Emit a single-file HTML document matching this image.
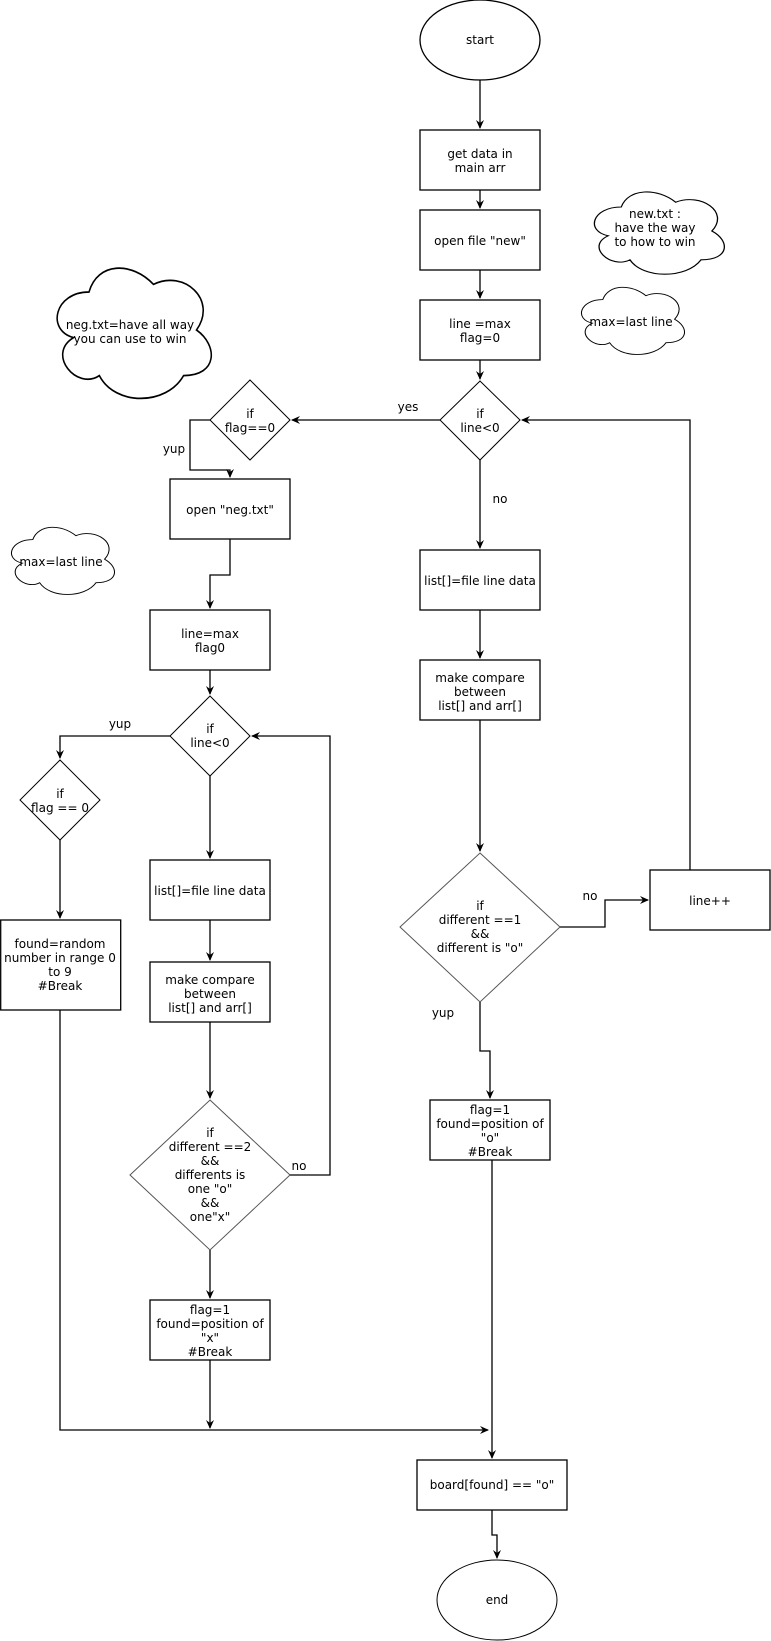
<!DOCTYPE html>
<html><head><meta charset="utf-8"><style>
html,body{margin:0;padding:0;background:#fff;}
svg{display:block;}
text{font-family:"DejaVu Sans","Liberation Sans",sans-serif;font-size:12px;fill:#000;}
</style></head><body>
<svg width="771" height="1641" viewBox="0 0 771 1641" xmlns="http://www.w3.org/2000/svg">
<defs>
<marker id="a" markerWidth="10" markerHeight="10" refX="8" refY="5" orient="auto" markerUnits="userSpaceOnUse">
<path d="M0,1 L9,5 L0,9 L3,5 Z" fill="#000"/></marker>
<path id="cl" d="M25 20 C5 20 0 40 16 44 C0 52.8 18 72 31 64 C40 80 70 80 80 64 C100 64 100 48 87.5 40 C100 24 80 8 62.5 16 C50 4 30 4 25 20 Z"/>
</defs>
<g fill="none" stroke="#000" stroke-width="1.3">
<!-- main column -->
<ellipse cx="480" cy="40" rx="60" ry="40" fill="#fff"/>
<path d="M480 80 V128" marker-end="url(#a)"/>
<rect x="420" y="130" width="120" height="60" fill="#fff"/>
<path d="M480 190 V208" marker-end="url(#a)"/>
<rect x="420" y="210" width="120" height="60" fill="#fff"/>
<path d="M480 270 V298" marker-end="url(#a)"/>
<rect x="420" y="300" width="120" height="60" fill="#fff"/>
<path d="M480 360 V379" marker-end="url(#a)"/>
<path d="M480 381 L520 420 L480 460 L440 420 Z" fill="#fff" stroke-width="1"/>
<path d="M440 420 H292" marker-end="url(#a)"/>
<path d="M480 460 V548" marker-end="url(#a)"/>
<rect x="420" y="550" width="120" height="60" fill="#fff"/>
<path d="M480 610 V658" marker-end="url(#a)"/>
<rect x="420" y="660" width="120" height="60" fill="#fff"/>
<path d="M480 720 V851" marker-end="url(#a)"/>
<path d="M480 853 L560 927 L480 1002 L400 927 Z" fill="#fff" stroke="#555" stroke-width="1"/>
<path d="M560 927 H605 V900 H648" marker-end="url(#a)"/>
<rect x="650" y="870" width="120" height="60" fill="#fff"/>
<path d="M690 870 V420 H522" marker-end="url(#a)"/>
<path d="M480 1002 V1051 H490 V1098" marker-end="url(#a)"/>
<rect x="430" y="1100" width="120" height="60" fill="#fff"/>
<path d="M492 1160 V1458" marker-end="url(#a)"/>
<rect x="417" y="1460" width="150" height="50" fill="#fff"/>
<path d="M492 1510 V1535 H497 V1558" marker-end="url(#a)"/>
<ellipse cx="497" cy="1600" rx="60" ry="40" fill="#fff" stroke-width="1"/>
<!-- left column -->
<path d="M250 380 L290 420 L250 460 L210 420 Z" fill="#fff" stroke-width="1"/>
<path d="M210 420 H190 V470 H230 V477" marker-end="url(#a)"/>
<rect x="170" y="479" width="120" height="60" fill="#fff"/>
<path d="M230 539 V575 H210 V608" marker-end="url(#a)"/>
<rect x="150" y="610" width="120" height="60" fill="#fff"/>
<path d="M210 670 V694" marker-end="url(#a)"/>
<path d="M210 696 L250 736 L210 776 L170 736 Z" fill="#fff" stroke-width="1"/>
<path d="M170 736 H60 V758" marker-end="url(#a)"/>
<path d="M60 760 L100 800 L60 840 L20 800 Z" fill="#fff" stroke-width="1"/>
<path d="M60 840 V918" marker-end="url(#a)"/>
<rect x="0.7" y="920" width="120" height="90" fill="#fff"/>
<path d="M60 1010 V1430 H488" marker-end="url(#a)"/>
<path d="M210 776 V858" marker-end="url(#a)"/>
<rect x="150" y="860" width="120" height="60" fill="#fff"/>
<path d="M210 920 V960" marker-end="url(#a)"/>
<rect x="150" y="962" width="120" height="60" fill="#fff"/>
<path d="M210 1022 V1098" marker-end="url(#a)"/>
<path d="M210 1100 L290 1175 L210 1250 L130 1175 Z" fill="#fff" stroke="#555" stroke-width="1"/>
<path d="M290 1175 H330 V736 H252" marker-end="url(#a)"/>
<path d="M210 1250 V1298" marker-end="url(#a)"/>
<rect x="150" y="1300" width="120" height="60" fill="#fff"/>
<path d="M210 1360 V1428" marker-end="url(#a)"/>
<!-- clouds -->
<use href="#cl" transform="translate(585,183) scale(1.45,1.2)" stroke-width="0.9" vector-effect="non-scaling-stroke"/>
<use href="#cl" transform="translate(574,280) scale(1.15,0.98)" stroke-width="0.9" vector-effect="non-scaling-stroke"/>
<use href="#cl" transform="translate(46,254) scale(1.72,1.9)" stroke-width="0.9" vector-effect="non-scaling-stroke"/>
<use href="#cl" transform="translate(4,520) scale(1.15,0.98)" stroke-width="0.9" vector-effect="non-scaling-stroke"/>
</g>
<g text-anchor="middle">
<text x="480" y="44">start</text>
<text x="480" y="158">get data in</text><text x="480" y="172">main arr</text>
<text x="480" y="245">open file "new"</text>
<text x="480" y="328">line =max</text><text x="480" y="342">flag=0</text>
<text x="480" y="418">if</text><text x="480" y="432">line&lt;0</text>
<text x="408" y="411">yes</text>
<text x="500" y="503">no</text>
<text x="480" y="585">list[]=file line data</text>
<text x="480" y="682">make compare</text><text x="480" y="696">between</text><text x="480" y="710">list[] and arr[]</text>
<text x="480" y="910">if</text><text x="480" y="924">different ==1</text><text x="480" y="938">&amp;&amp;</text><text x="480" y="952">different is "o"</text>
<text x="590" y="900">no</text>
<text x="710" y="905">line++</text>
<text x="443" y="1017">yup</text>
<text x="490" y="1114">flag=1</text><text x="490" y="1128">found=position of</text><text x="490" y="1142">"o"</text><text x="490" y="1156">#Break</text>
<text x="492" y="1489">board[found] == "o"</text>
<text x="497" y="1604">end</text>
<text x="655" y="218">new.txt :</text><text x="655" y="232">have the way</text><text x="655" y="246">to how to win</text>
<text x="631" y="326">max=last line</text>
<text x="130" y="329">neg.txt=have all way</text><text x="130" y="343">you can use to win</text>
<text x="61" y="566">max=last line</text>
<text x="250" y="418">if</text><text x="250" y="432">flag==0</text>
<text x="174" y="453">yup</text>
<text x="230" y="514">open "neg.txt"</text>
<text x="210" y="638">line=max</text><text x="210" y="652">flag0</text>
<text x="210" y="733">if</text><text x="210" y="747">line&lt;0</text>
<text x="120" y="728">yup</text>
<text x="60" y="798">if</text><text x="60" y="812">flag == 0</text>
<text x="60" y="948">found=random</text><text x="60" y="962">number in range 0</text><text x="60" y="976">to 9</text><text x="60" y="990">#Break</text>
<text x="210" y="895">list[]=file line data</text>
<text x="210" y="984">make compare</text><text x="210" y="998">between</text><text x="210" y="1012">list[] and arr[]</text>
<text x="210" y="1137">if</text><text x="210" y="1151">different ==2</text><text x="210" y="1165">&amp;&amp;</text><text x="210" y="1179">differents is</text><text x="210" y="1193">one "o"</text><text x="210" y="1207">&amp;&amp;</text><text x="210" y="1221">one"x"</text>
<text x="299" y="1170">no</text>
<text x="210" y="1314">flag=1</text><text x="210" y="1328">found=position of</text><text x="210" y="1342">"x"</text><text x="210" y="1356">#Break</text>
</g>
</svg>
</body></html>
